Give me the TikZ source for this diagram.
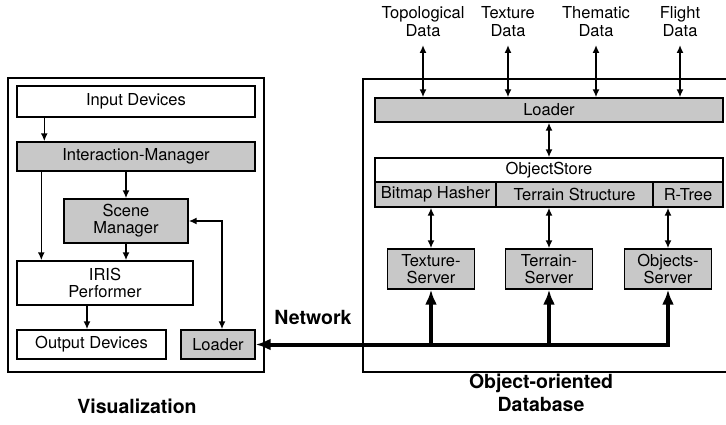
\documentclass[tikz,border=0pt]{standalone}
\usepackage{fontspec}
\setmainfont{TeX Gyre Heros}
\usetikzlibrary{arrows.meta}
\definecolor{boxgray}{RGB}{200,200,200}
\tikzset{
  box/.style={draw, line width=1.4pt, inner sep=0pt, align=center,
    font=\fontsize{16.5}{17}\selectfont},
  wbox/.style={box, fill=white},
  gbox/.style={box, fill=boxgray},
  lbl/.style={inner sep=0pt, align=center, font=\fontsize{16.5}{18.5}\selectfont},
  title/.style={inner sep=0pt, align=center, font=\fontsize{19.5}{23}\selectfont\bfseries},
  frame/.style={draw, line width=2pt},
  arr/.style={line width=1.6pt, -{Latex[length=8pt,width=7pt]}},
  dbl/.style={line width=1.6pt, {Latex[length=8pt,width=7pt]}-{Latex[length=8pt,width=7pt]}},
  net/.style={line width=4pt, line join=miter},
  nettip/.tip={Latex[length=15pt,width=12pt]},
}
\begin{document}
\begin{tikzpicture}[x=1pt,y=-1pt]
\useasboundingbox (0,0) rectangle (726,425);

% enclosing frames
\draw[frame] (8,78) rectangle (264,372);
\draw[frame] (730,79) -- (363,79) -- (363,372) -- (730,372);

% visualization side
\node[wbox, minimum width=238pt, minimum height=31pt] (in)  at (136,101.5) {Input Devices};
\node[gbox, minimum width=238pt, minimum height=29pt] (im)  at (136,156.5) {Interaction-Manager};
\node[gbox, minimum width=124pt, minimum height=44pt] (sm)  at (126,221) {Scene\\Manager};
\node[wbox, minimum width=176pt, minimum height=44pt] (iris) at (105,283) {IRIS\\Performer};
\node[wbox, minimum width=149pt, minimum height=29pt] (out) at (91.5,344.5) {Output Devices};
\node[gbox, minimum width=74pt, minimum height=29pt] (ldl) at (218,344.5) {Loader};

\draw[arr] ([xshift=28pt]in.south west) -- ([xshift=28pt]im.north west);
\draw[arr] ([xshift=25pt]im.south west) -- ([xshift=25pt]iris.north west);
\draw[arr] (im.south -| sm.north) -- (sm.north);
\draw[arr] (sm.south) -- (sm.south |- iris.north);
\draw[arr] ([xshift=-4.5pt]out.north |- iris.south) -- ([xshift=-4.5pt]out.north);
\draw[dbl] (sm.east) -| ([xshift=4pt]ldl.north);

% database side
\node[gbox, minimum width=348pt, minimum height=24pt] (ldr) at (549,110) {Loader};
\node[wbox, minimum width=348pt, minimum height=24pt] (os)  at (549,170) {ObjectStore};
\node[gbox, minimum width=121pt, minimum height=25pt] (bh)  at (435.5,194.5) {Bitmap Hasher};
\node[gbox, minimum width=157pt, minimum height=25pt] (tst) at (574.5,194.5) {Terrain Structure};
\node[gbox, minimum width=70pt,  minimum height=25pt] (rt)  at (688,194.5) {R-Tree};

\node[gbox, minimum width=87pt, minimum height=40pt] (txs) at (431,269) {Texture-\\Server};
\node[gbox, minimum width=87pt, minimum height=40pt] (trs) at (549,269) {Terrain-\\Server};
\node[gbox, minimum width=87pt, minimum height=40pt] (obs) at (668,269) {Objects-\\Server};

\node[lbl, anchor=south] (topo) at (423,37) {Topological\\Data};
\node[lbl, anchor=south] (tex)  at (508,37) {Texture\\Data};
\node[lbl, anchor=south] (them) at (596,37) {Thematic\\Data};
\node[lbl, anchor=south] (fl)   at (680,37) {Flight\\Data};

\foreach \d in {topo,tex,them,fl}
  \draw[dbl] ([yshift=-8pt]\d.south) -- (\d.south |- ldr.north);

\draw[dbl] (ldr.south) -- (os.north);
\draw[dbl] (txs.north |- bh.south) -- (txs.north);
\draw[dbl] (trs.north |- tst.south) -- (trs.north);
\draw[dbl] (obs.north |- rt.south) -- (obs.north);

% network
\draw[net, nettip-nettip] (obs.south) |- (ldl.east);
\draw[net, -nettip] (txs.south |- ldl.east) -- (txs.south);
\draw[net, -nettip] (trs.south |- ldl.east) -- (trs.south);

% captions
\node[title] (netlbl) at (313,317) {Network};
\node[title] (vis) at (137,406) {Visualization};
\node[title] (db) at (541,393) {Object-oriented\\Database};
\end{tikzpicture}
\end{document}
